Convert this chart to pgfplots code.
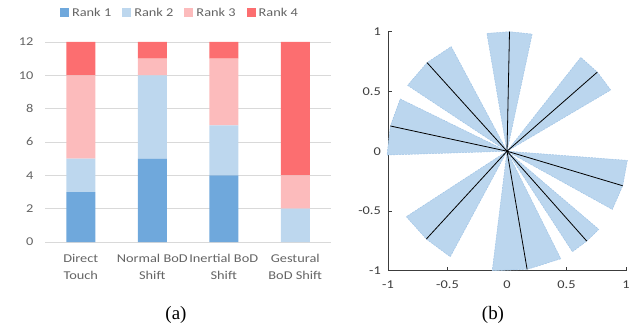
\documentclass[border=0pt]{standalone}
\usepackage{pgfplots}
\pgfplotsset{compat=1.18}
\usepackage{fontspec}
\setmainfont{Carlito}[FakeStretch=1.2]
\newfontfamily\seriffont{Liberation Serif}
\definecolor{rone}{RGB}{111,168,220}
\definecolor{rtwo}{RGB}{189,215,238}
\definecolor{rthree}{RGB}{252,187,188}
\definecolor{rfour}{RGB}{252,110,112}
\definecolor{txtgray}{RGB}{100,100,100}
\definecolor{gridgray}{RGB}{217,217,217}
\definecolor{axisgray}{RGB}{60,60,60}
\definecolor{sectorblue}{RGB}{187,214,238}
\definecolor{sectoredge}{RGB}{160,196,230}
\begin{document}
\begin{tikzpicture}[x=1bp,y=1bp]
\useasboundingbox (0,0) rectangle (637,330);
\begin{axis}[
  at={(45bp,88bp)}, anchor=south west, scale only axis,
  width=286bp, height=200bp,
  xmin=-0.5, xmax=3.5, ymin=0, ymax=12,
  ybar stacked, bar width=29bp,
  xtick={0,1,2,3},
  xticklabels={{Direct\\Touch},{Normal BoD\\Shift},{Inertial BoD\\Shift},{Gestural\\BoD Shift}},
  ytick={0,2,4,6,8,10,12},
  ymajorgrids, grid style={gridgray, line width=0.8bp},
  axis line style={draw=none},
  major tick length=0pt, tick style={draw=none},
  /pgf/number format/assume math mode=true,
  tick label style={font=\fontsize{12}{17}\selectfont, text=txtgray},
  yticklabel style={inner sep=0pt, anchor=east, xshift=-11.5bp},
  xticklabel style={align=center, inner sep=0pt, anchor=north, yshift=-12bp},
  legend columns=4,
  legend style={at={(0.472,1.145)}, anchor=center, draw=none, fill=none,
    font=\fontsize{12}{13}\selectfont, text=txtgray,
    /tikz/every even column/.append style={column sep=9bp},
    /tikz/every odd column/.append style={column sep=1bp}},
  legend image code/.code={\fill[#1] (0bp,-4.5bp) rectangle (9bp,4.5bp);},
]
\addplot[fill=rone, draw=none] coordinates {(0,3) (1,5) (2,4) (3,0)};
\addplot[fill=rtwo, draw=none] coordinates {(0,2) (1,5) (2,3) (3,2)};
\addplot[fill=rthree, draw=none] coordinates {(0,5) (1,1) (2,4) (3,2)};
\addplot[fill=rfour, draw=none] coordinates {(0,2) (1,1) (2,1) (3,8)};
\legend{Rank 1, Rank 2, Rank 3, Rank 4}
\end{axis}

\begin{axis}[
  at={(388bp,59.3bp)}, anchor=south west, scale only axis,
  width=238bp, height=239bp,
  xmin=-1, xmax=1, ymin=-1, ymax=1,
  axis x line*=bottom, axis y line*=left,
  axis line style={draw=axisgray, line width=0.8bp, -},
  tick align=inside, major tick length=3.5bp,
  tick style={axisgray, line width=0.8bp},
  xtick={-1,-0.5,0,0.5,1}, ytick={-1,-0.5,0,0.5,1},
  clip=false,
  /pgf/number format/assume math mode=true,
  tick label style={font=\fontsize{12}{13}\selectfont, text=axisgray},
  yticklabel style={inner sep=0pt, anchor=east, xshift=-7bp},
  xticklabel style={inner sep=0pt, anchor=north, yshift=-10bp},
]
\addplot[fill=sectorblue, draw=sectoredge, dash pattern=on 2bp off 1bp, line width=0.5bp] coordinates {(0,0) (-0.169,0.986) (0.021,1.0) (0.211,0.980)} -- cycle;
\addplot[fill=sectorblue, draw=sectoredge, dash pattern=on 2bp off 1bp, line width=0.5bp] coordinates {(0,0) (0.620,0.785) (0.759,0.662) (0.871,0.512)} -- cycle;
\addplot[fill=sectorblue, draw=sectoredge, dash pattern=on 2bp off 1bp, line width=0.5bp] coordinates {(0,0) (1.011,-0.077) (0.972,-0.289) (0.885,-0.487)} -- cycle;
\addplot[fill=sectorblue, draw=sectoredge, dash pattern=on 2bp off 1bp, line width=0.5bp] coordinates {(0,0) (0.771,-0.654) (0.670,-0.752) (0.550,-0.841)} -- cycle;
\addplot[fill=sectorblue, draw=sectoredge, dash pattern=on 2bp off 1bp, line width=0.5bp] coordinates {(0,0) (0.452,-0.900) (0.169,-0.989) (-0.124,-1.0)} -- cycle;
\addplot[fill=sectorblue, draw=sectoredge, dash pattern=on 2bp off 1bp, line width=0.5bp] coordinates {(0,0) (-0.846,-0.548) (-0.678,-0.735) (-0.477,-0.883)} -- cycle;
\addplot[fill=sectorblue, draw=sectoredge, dash pattern=on 2bp off 1bp, line width=0.5bp] coordinates {(0,0) (-0.897,0.437) (-0.980,0.211) (-1.008,-0.032)} -- cycle;
\addplot[fill=sectorblue, draw=sectoredge, dash pattern=on 2bp off 1bp, line width=0.5bp] coordinates {(0,0) (-0.469,0.875) (-0.672,0.741) (-0.835,0.551)} -- cycle;
\addplot[black, line width=0.8bp] coordinates {(0,0) (0.021,1.0)};
\addplot[black, line width=0.8bp] coordinates {(0,0) (0.759,0.662)};
\addplot[black, line width=0.8bp] coordinates {(0,0) (0.972,-0.289)};
\addplot[black, line width=0.8bp] coordinates {(0,0) (0.670,-0.752)};
\addplot[black, line width=0.8bp] coordinates {(0,0) (0.169,-0.989)};
\addplot[black, line width=0.8bp] coordinates {(0,0) (-0.678,-0.735)};
\addplot[black, line width=0.8bp] coordinates {(0,0) (-0.980,0.211)};
\addplot[black, line width=0.8bp] coordinates {(0,0) (-0.672,0.741)};
\end{axis}

\node[font=\seriffont\fontsize{19}{21}\selectfont] at (176,15) {(a)};
\node[font=\seriffont\fontsize{19}{21}\selectfont] at (493,15) {(b)};
\end{tikzpicture}
\end{document}
